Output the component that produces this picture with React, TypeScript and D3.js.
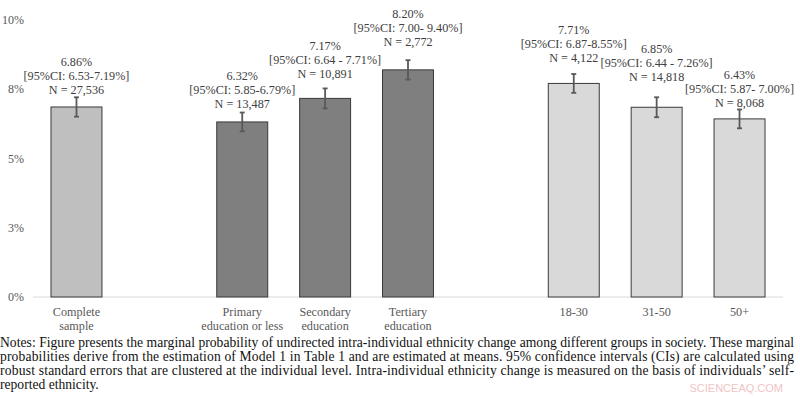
import React from "react";
import * as d3 from "d3";

// bar data
const categories = [
	"Complete sample",
	"Primary education or less",
	"Secondary education",
	"Tertiary education",
	"18-30",
	"31-50",
	"50+",
];
const groups = ["all", "edu", "edu", "edu", "age", "age", "age"];
const axisLines = [
	["Complete", "sample"],
	["Primary", "education or less"],
	["Secondary", "education"],
	["Tertiary", "education"],
	["18-30"],
	["31-50"],
	["50+"],
];
const values = [6.86, 6.32, 7.17, 8.2, 7.71, 6.85, 6.43];
// drawn error bar half-width (percentage points)
const errorBars = [0.35, 0.34, 0.36, 0.35, 0.34, 0.36, 0.34];
const valueText = ["6.86%", "6.32%", "7.17%", "8.20%", "7.71%", "6.85%", "6.43%"];
const ciText = [
	"[95%CI: 6.53-7.19%]",
	"[95%CI: 5.85-6.79%]",
	"[95%CI: 6.64 - 7.71%]",
	"[95%CI: 7.00- 9.40%]",
	"[95%CI: 6.87-8.55%]",
	"[95%CI: 6.44 - 7.26%]",
	"[95%CI: 5.87- 7.00%]",
];
const nText = [
	"N = 27,536",
	"N = 13,487",
	"N = 10,891",
	"N = 2,772",
	"N = 4,122",
	"N = 14,818",
	"N = 8,068",
];
const yTicks = [0, 2.5, 5, 7.5, 10];
const yTickLabels = ["0%", "3%", "5%", "8%", "10%"];
const groupColors = { all: "#bfbfbf", edu: "#7f7f7f", age: "#d9d9d9" };

const notes = [
	"Notes: Figure presents the marginal probability of undirected intra-individual ethnicity change among different groups in society. These marginal",
	"probabilities derive from the estimation of Model 1 in Table 1 and are estimated at means. 95% confidence intervals (CIs) are calculated using",
	"robust standard errors that are clustered at the individual level. Intra-individual ethnicity change is measured on the basis of individuals\u2019 self-",
	"reported ethnicity.",
];

const serif = "'Liberation Serif', 'Times New Roman', serif";
const labelSize = 12.2;
const lineGap = 14;
// the data labels were dragged by hand in the original; extra lift in px
const labelNudge = [0, 1, 7, 10, 8, 13, -1];

export default function App() {
	const width = 800,
		height = 397;

	// empty slot between the groups
	const slots: string[] = [];
	categories.forEach((c, i) => {
		if (i > 0 && groups[i] !== groups[i - 1]) slots.push("gap" + i);
		slots.push(c);
	});

	const x = d3
		.scaleBand()
		.domain(slots)
		.range([33, 783])
		.paddingInner(0.385)
		.paddingOuter(0.217);
	const y = d3.scaleLinear().domain([0, 10]).range([297, 20]);
	const bw = x.bandwidth();

	return (
		<svg
			width={width}
			height={height}
			style={{ position: "absolute", left: 0, top: 0, background: "#fff" }}
			fontFamily={serif}
		>
			<rect width={width} height={height} fill="#fff" />

			{/* y axis labels */}
			{yTicks.map((t, i) => (
				<text
					key={t}
					x={24}
					y={y(t)}
					dy="0.35em"
					textAnchor="end"
					fontSize={12}
					fill="#595959"
				>
					{yTickLabels[i]}
				</text>
			))}

			{/* baseline */}
			<line
				x1={x.range()[0]}
				x2={x.range()[1]}
				y1={y(0)}
				y2={y(0)}
				stroke="#d9d9d9"
				strokeWidth={1}
			/>

			{categories.map((c, i) => {
				const x0 = x(c) as number;
				const cx = x0 + bw / 2;
				const top = y(values[i]);
				const eHi = y(values[i] + errorBars[i]);
				const eLo = y(values[i] - errorBars[i]);
				// center of the last label line
				const labBottom = eHi - 8 - labelNudge[i];
				const texts = [valueText[i], ciText[i], nText[i]];
				return (
					<g key={c}>
						<rect
							x={x0}
							y={top}
							width={bw}
							height={y(0) - top}
							fill={groupColors[groups[i]]}
							stroke="#3a3a3a"
							strokeWidth={1}
						/>
						<g stroke="#595959" strokeWidth={1.8}>
							<line x1={cx} x2={cx} y1={eHi} y2={eLo} />
							<line x1={cx - 2.5} x2={cx + 2.5} y1={eHi} y2={eHi} />
							<line x1={cx - 2.5} x2={cx + 2.5} y1={eLo} y2={eLo} />
						</g>
						<g fontSize={labelSize} fill="#404040" textAnchor="middle">
							{texts.map((t, k) => (
								<text
									key={k}
									x={cx}
									y={labBottom - (2 - k) * lineGap}
									dy="0.35em"
								>
									{t}
								</text>
							))}
						</g>
						<g fontSize={12.2} fill="#595959" textAnchor="middle">
							{axisLines[i].map((l, k) => (
								<text key={k} x={cx} y={316 + k * 14}>
									{l}
								</text>
							))}
						</g>
					</g>
				);
			})}

			{/* notes below the chart */}
			<g fontSize={13.6} fill="#111">
				{notes.map((l, i) => (
					<text
						key={i}
						x={0}
						y={347 + i * 14}
						textLength={i < notes.length - 1 ? 794 : undefined}
						lengthAdjust="spacing"
					>
						{l}
					</text>
				))}
			</g>

			<text
				x={783}
				y={392}
				textAnchor="end"
				fontSize={11}
				fontFamily="'Liberation Sans', Arial, sans-serif"
				fill="#f0c4c4"
			>
				SCIENCEAQ.COM
			</text>
		</svg>
	);
}
